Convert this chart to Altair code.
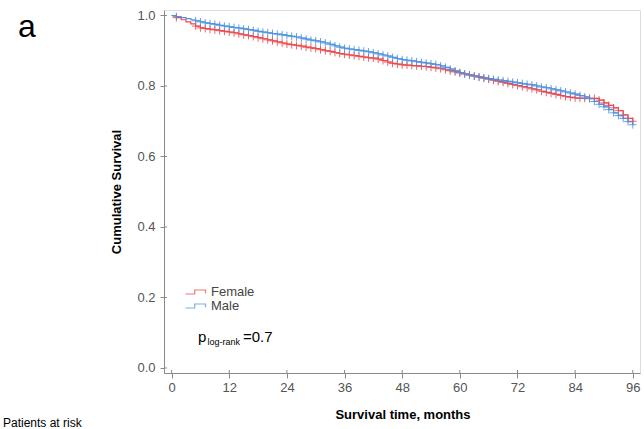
import altair as alt
import pandas as pd

months = list(range(0, 97))

female_surv = [
    1.000, 0.994, 0.988, 0.982, 0.976, 0.970, 0.965, 0.963, 0.961, 0.959,
    0.957, 0.955, 0.953, 0.951, 0.948, 0.945, 0.943, 0.940, 0.937, 0.934,
    0.931, 0.928, 0.925, 0.922, 0.919, 0.917, 0.915, 0.913, 0.910, 0.908,
    0.906, 0.903, 0.900, 0.898, 0.895, 0.892, 0.890, 0.888, 0.886, 0.884,
    0.882, 0.880, 0.879, 0.876, 0.872, 0.868, 0.864, 0.862, 0.860, 0.859,
    0.858, 0.857, 0.856, 0.855, 0.853, 0.851, 0.849, 0.846, 0.843, 0.840,
    0.837, 0.834, 0.831, 0.828, 0.825, 0.822, 0.819, 0.816, 0.813, 0.810,
    0.807, 0.804, 0.801, 0.798, 0.795, 0.792, 0.789, 0.785, 0.782, 0.779,
    0.776, 0.773, 0.770, 0.768, 0.766, 0.765, 0.765, 0.765, 0.765, 0.760,
    0.752, 0.745, 0.738, 0.730, 0.718, 0.708, 0.700,
]

male_surv = [
    1.000, 0.997, 0.994, 0.991, 0.988, 0.985, 0.982, 0.979, 0.977, 0.975,
    0.972, 0.970, 0.968, 0.966, 0.964, 0.962, 0.960, 0.958, 0.955, 0.953,
    0.951, 0.949, 0.947, 0.945, 0.943, 0.941, 0.939, 0.936, 0.933, 0.930,
    0.928, 0.925, 0.922, 0.918, 0.914, 0.910, 0.907, 0.905, 0.903, 0.901,
    0.899, 0.897, 0.894, 0.891, 0.888, 0.885, 0.881, 0.878, 0.875, 0.873,
    0.871, 0.869, 0.867, 0.865, 0.863, 0.861, 0.857, 0.853, 0.848, 0.843,
    0.838, 0.834, 0.831, 0.828, 0.826, 0.823, 0.821, 0.819, 0.817, 0.815,
    0.813, 0.811, 0.809, 0.807, 0.805, 0.803, 0.800, 0.797, 0.795, 0.792,
    0.789, 0.786, 0.783, 0.780, 0.777, 0.773, 0.769, 0.764, 0.756, 0.748,
    0.741, 0.733, 0.724, 0.716, 0.708, 0.699, 0.690,
]

groups = ["Female", "Male"]
colors = ["#EC4A4E", "#4F93E2"]
x_ticks = [0, 12, 24, 36, 48, 60, 72, 84, 96]
y_ticks = [0.0, 0.2, 0.4, 0.6, 0.8, 1.0]

panel_label = "a"
y_title = "Cumulative Survival"
x_title = "Survival time, months"
risk_title = "Patients at risk"
p_main = "p"
p_sub = "log-rank"
p_value = "=0.7"

W, H = 476, 363

rows = []
for g, surv in zip(groups, [female_surv, male_surv]):
    for t, s in zip(months, surv):
        rows.append({"t": t, "s": s, "group": g, "order": groups.index(g)})
df = pd.DataFrame(rows)
cens = df[(df["t"] >= 5) | (df["t"] == 1)]

x_scale = alt.Scale(domain=[-1.58, 97.5], nice=False, zero=False)
y_scale = alt.Scale(domain=[-0.0142, 1.0156], nice=False, zero=False)
color_scale = alt.Scale(domain=groups, range=colors)

x_axis = alt.Axis(values=x_ticks, format="d", title=None, grid=False,
                  domainColor="#8a8a8a", tickColor="#8a8a8a", tickSize=5,
                  labelFont="Liberation Sans", labelFontSize=13, labelColor="#555555",
                  labelPadding=3)
y_axis = alt.Axis(values=y_ticks, format=".1f", title=None, grid=False,
                  domainColor="#8a8a8a", tickColor="#8a8a8a", tickSize=4,
                  labelFont="Liberation Sans", labelFontSize=13, labelColor="#555555",
                  labelPadding=5)

step_path = "M-2.5,0.5H-0.2V-0.5H2.5V0.3"
cross_path = "M-1,0H1M0,-1V1"

lines = alt.Chart(df).mark_line(interpolate="step-after", strokeWidth=1.2).encode(
    x=alt.X("t:Q", scale=x_scale, axis=x_axis),
    y=alt.Y("s:Q", scale=y_scale, axis=y_axis),
    color=alt.Color("group:N", scale=color_scale, sort=groups,
                    legend=alt.Legend(
                        title=None, orient="none", legendX=25, legendY=275.5,
                        symbolType=step_path, symbolSize=64,
                        symbolStrokeWidth=1.2, symbolFillColor="transparent",
                        symbolOpacity=0.75, labelOffset=9, rowPadding=0,
                        labelFont="Liberation Sans", labelFontSize=13,
                        labelColor="#444444")),
    detail="group:N",
    order="order:Q",
)

crosses = alt.Chart(cens).mark_point(shape=cross_path, filled=False, size=60,
                                     strokeWidth=1, opacity=0.85).encode(
    x=alt.X("t:Q", scale=x_scale),
    y=alt.Y("s:Q", scale=y_scale),
    color=alt.Color("group:N", scale=color_scale, legend=None),
    order="order:Q",
)

xt = alt.Chart(pd.DataFrame({"v": x_ticks})).mark_rule(color="#8a8a8a").encode(
    x=alt.X("v:Q", scale=x_scale), y=alt.value(H - 3), y2=alt.value(H))
yt = alt.Chart(pd.DataFrame({"v": y_ticks})).mark_rule(color="#8a8a8a").encode(
    y=alt.Y("v:Q", scale=y_scale), x=alt.value(0), x2=alt.value(3))

def label(text, x, y, size, weight="normal", align="left", angle=0, baseline="alphabetic", color="#000000"):
    kw = dict(align=align, baseline=baseline, fontSize=size, fontWeight=weight,
              font="Liberation Sans", color=color)
    if angle:
        kw["angle"] = angle
    return alt.Chart(pd.DataFrame({"txt": [text]})).mark_text(**kw).encode(
        x=alt.value(x), y=alt.value(y), text="txt:N")

texts = [
    label(panel_label, -137, 27, 32, align="center"),
    label(y_title, -47, 182, 13, weight="bold", align="center", angle=270, baseline="middle"),
    label(x_title, 239, 409, 13, weight="bold", align="center"),
    label(risk_title, -161, 417, 12),
    label(p_main, 34, 332, 15),
    label(p_sub, 43.5, 334.5, 9),
    label(p_value, 79, 332, 15),
]

chart = alt.layer(xt, yt, lines, crosses, *texts).properties(
    width=W, height=H,
    autosize=alt.AutoSizeParams(type="none"),
    padding={"left": 164, "top": 10, "right": 4, "bottom": 56},
).configure_view(stroke=None).configure(background="white")

chart.save("out.html", embed_options={"renderer": "svg", "actions": False})
